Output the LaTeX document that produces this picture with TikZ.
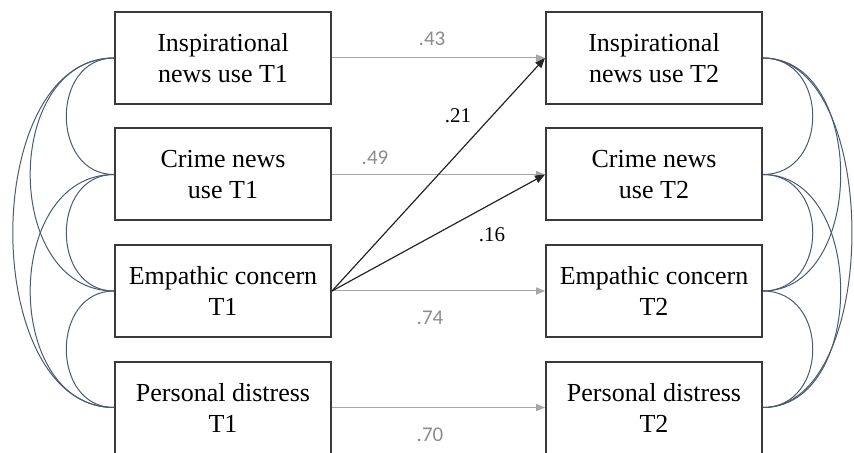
\documentclass[tikz,border=0pt]{standalone}
\usepackage{fontspec}
\setmainfont{Liberation Serif}
\newfontfamily\labfont{Carlito}
\usetikzlibrary{arrows.meta}
\definecolor{corrblue}{HTML}{4A5A72}
\definecolor{pathgray}{HTML}{A6A6A6}
\definecolor{labgray}{HTML}{8C8C8C}
\definecolor{boxline}{HTML}{3A3A3A}
\tikzset{
  varbox/.style = {draw=boxline, line width=1pt, minimum width=108pt,
    minimum height=46pt, inner sep=0pt, align=center,
    font=\fontsize{13}{15.5}\selectfont},
  stab/.style = {draw=pathgray, line width=0.5pt,
    -{Triangle[length=4.5pt,width=3.6pt]}},
  cross/.style = {draw=black!85, line width=0.6pt,
    -{Triangle[length=5pt,width=4pt]}},
  corr/.style = {draw=corrblue, line width=0.5pt},
  graylab/.style = {text=labgray, inner sep=0pt,
    font=\labfont\fontsize{10.5}{12}\selectfont},
  blacklab/.style = {inner sep=0pt, font=\fontsize{10.5}{12}\selectfont}
}

\begin{document}
\begin{tikzpicture}[x=0.5pt,y=-0.5pt]
  \useasboundingbox (0,0) rectangle (854,453);

  % wave 1
  \node[varbox] (ins1) at (223,58)    {Inspirational\\news use T1};
  \node[varbox] (cri1) at (223,174.5) {Crime news\\use T1};
  \node[varbox] (emp1) at (223,291)   {Empathic concern\\T1};
  \node[varbox] (dis1) at (223,407.5) {Personal distress\\T1};
  % wave 2
  \node[varbox] (ins2) at (654,58)    {Inspirational\\news use T2};
  \node[varbox] (cri2) at (654,174.5) {Crime news\\use T2};
  \node[varbox] (emp2) at (654,291)   {Empathic concern\\T2};
  \node[varbox] (dis2) at (654,407.5) {Personal distress\\T2};

  % stability paths
  \draw[stab] (ins1) to (ins2);
  \draw[stab] (cri1) to (cri2);
  \draw[stab] (emp1) to (emp2);
  \draw[stab] (dis1) to (dis2);
  \node[graylab] (b43) at (432,39)  {.43};
  \node[graylab] (b49) at (375,158) {.49};
  \node[graylab] (b74) at (430,318) {.74};
  \node[graylab] (b70) at (430,435) {.70};

  % cross-lagged paths
  \draw[cross] (emp1.east) to (ins2.west);
  \draw[cross] (emp1.east) to (cri2.west);
  \node[blacklab] (b21) at (458,116) {.21};
  \node[blacklab] (b16) at (492,235) {.16};

  % correlations T1
  \draw[corr] (ins1.west) to[out=180,in=180,looseness=1.40] (cri1.west);
  \draw[corr] (cri1.west) to[out=180,in=180,looseness=1.40] (emp1.west);
  \draw[corr] (emp1.west) to[out=180,in=180,looseness=1.40] (dis1.west);
  \draw[corr] (ins1.west) to[out=180,in=180,looseness=1.23] (emp1.west);
  \draw[corr] (cri1.west) to[out=180,in=180,looseness=1.23] (dis1.west);
  \draw[corr] (ins1.west) to[out=180,in=180,looseness=0.99] (dis1.west);
  % correlations T2
  \draw[corr] (ins2.east) to[out=0,in=0,looseness=1.46] (cri2.east);
  \draw[corr] (cri2.east) to[out=0,in=0,looseness=1.46] (emp2.east);
  \draw[corr] (emp2.east) to[out=0,in=0,looseness=1.46] (dis2.east);
  \draw[corr] (ins2.east) to[out=0,in=0,looseness=1.14] (emp2.east);
  \draw[corr] (cri2.east) to[out=0,in=0,looseness=1.14] (dis2.east);
  \draw[corr] (ins2.east) to[out=0,in=0,looseness=0.87] (dis2.east);
\end{tikzpicture}
\end{document}
